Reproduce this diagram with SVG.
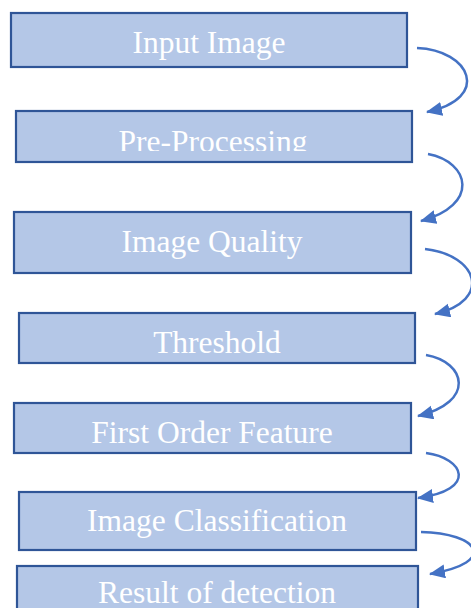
<svg xmlns="http://www.w3.org/2000/svg" width="471" height="608" viewBox="0 0 471 608">
<style>
.box{fill:#b4c7e7;stroke:#2f5597;stroke-width:2.2}
.lbl{font-family:"Liberation Serif","Times New Roman",serif;font-size:31.5px;fill:#ffffff;text-anchor:middle}
.con{fill:none;stroke:#4472c4;stroke-width:2.5}
</style>
<defs>
<marker id="ah" markerUnits="userSpaceOnUse" markerWidth="18" markerHeight="16" refX="15" refY="7" orient="auto">
<path d="M0,0 L16,7 L0,14 Z" fill="#4472c4"/>
</marker>
<clipPath id="clip2"><rect x="0" y="100" width="471" height="51"/></clipPath>
</defs>
<rect width="471" height="608" fill="#ffffff"/>
<g id="n1"><rect class="box" x="11" y="13" width="396" height="54"/><text class="lbl" x="209" y="53">Input Image</text></g>
<g id="n2"><rect class="box" x="16" y="111" width="396" height="51"/><text class="lbl" x="213" y="152" clip-path="url(#clip2)">Pre-Processing</text></g>
<g id="n3"><rect class="box" x="14" y="212" width="397" height="61"/><text class="lbl" x="212" y="252">Image Quality</text></g>
<g id="n4"><rect class="box" x="19" y="313" width="396" height="50"/><text class="lbl" x="217" y="353">Threshold</text></g>
<g id="n5"><rect class="box" x="14" y="403" width="397" height="50"/><text class="lbl" x="212" y="443">First Order Feature</text></g>
<g id="n6"><rect class="box" x="19" y="492" width="397" height="58"/><text class="lbl" x="217" y="531">Image Classification</text></g>
<g id="n7"><rect class="box" x="17" y="566" width="401" height="60"/><text class="lbl" x="217" y="603">Result of detection</text></g>
<g id="connectors">
<path class="con" marker-end="url(#ah)" d="M417,48 C470,50 492,98 427,112"/>
<path class="con" marker-end="url(#ah)" d="M428,154 C470,162 480,205 421,221"/>
<path class="con" marker-end="url(#ah)" d="M425,249 C478,255 493,300 435,314"/>
<path class="con" marker-end="url(#ah)" d="M426,355 C466,362 476,402 418,416"/>
<path class="con" marker-end="url(#ah)" d="M426,453 C464,458 478,490 418,498"/>
<path class="con" marker-end="url(#ah)" d="M421,532 C478,533 500,562 430,574"/>
</g>
</svg>
